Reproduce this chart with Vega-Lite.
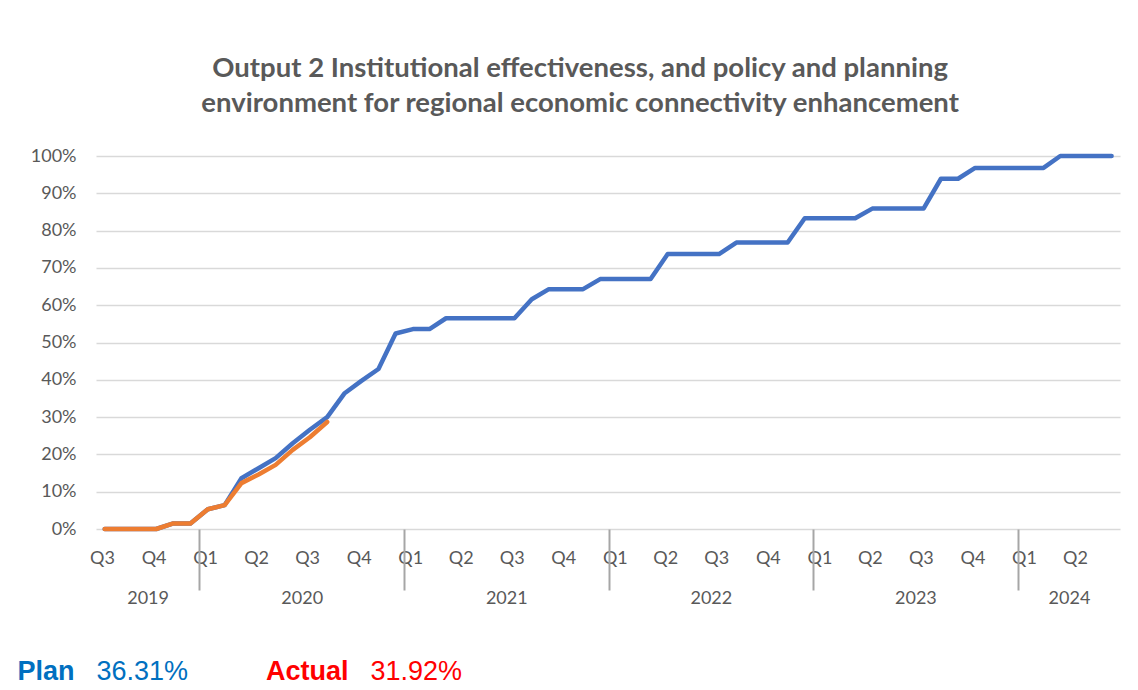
{
  "$schema": "https://vega.github.io/schema/vega-lite/v6.json",
  "background": "white",
  "padding": {"left": 17, "top": 54, "right": 8, "bottom": 0},
  "config": {"view": {"stroke": null}, "font": "Lato"},
  "spacing": 51,
  "vconcat": [
    {
      "title": {
        "text": ["Output 2 Institutional effectiveness, and policy and planning", "environment for regional economic connectivity enhancement"],
        "font": "Lato", "fontSize": 27.5, "fontWeight": "bold", "color": "#595959",
        "lineHeight": 35, "anchor": "middle", "frame": "bounds", "dx": 2, "offset": 30
      },
      "width": 1024,
      "height": 373,
      "data": {"values": [
        {"month": "2019-07", "plan": 0, "actual": 0},
        {"month": "2019-08", "plan": 0, "actual": 0},
        {"month": "2019-09", "plan": 0, "actual": 0},
        {"month": "2019-10", "plan": 0, "actual": 0},
        {"month": "2019-11", "plan": 0.015, "actual": 0.015},
        {"month": "2019-12", "plan": 0.015, "actual": 0.015},
        {"month": "2020-01", "plan": 0.053, "actual": 0.053},
        {"month": "2020-02", "plan": 0.064, "actual": 0.064},
        {"month": "2020-03", "plan": 0.136, "actual": 0.123},
        {"month": "2020-04", "plan": 0.163, "actual": 0.146},
        {"month": "2020-05", "plan": 0.19, "actual": 0.172},
        {"month": "2020-06", "plan": 0.23, "actual": 0.212},
        {"month": "2020-07", "plan": 0.266, "actual": 0.246},
        {"month": "2020-08", "plan": 0.3, "actual": 0.287},
        {"month": "2020-09", "plan": 0.3631, "actual": null},
        {"month": "2020-10", "plan": 0.397, "actual": null},
        {"month": "2020-11", "plan": 0.429, "actual": null},
        {"month": "2020-12", "plan": 0.524, "actual": null},
        {"month": "2021-01", "plan": 0.536, "actual": null},
        {"month": "2021-02", "plan": 0.536, "actual": null},
        {"month": "2021-03", "plan": 0.565, "actual": null},
        {"month": "2021-04", "plan": 0.565, "actual": null},
        {"month": "2021-05", "plan": 0.565, "actual": null},
        {"month": "2021-06", "plan": 0.565, "actual": null},
        {"month": "2021-07", "plan": 0.565, "actual": null},
        {"month": "2021-08", "plan": 0.616, "actual": null},
        {"month": "2021-09", "plan": 0.643, "actual": null},
        {"month": "2021-10", "plan": 0.643, "actual": null},
        {"month": "2021-11", "plan": 0.643, "actual": null},
        {"month": "2021-12", "plan": 0.67, "actual": null},
        {"month": "2022-01", "plan": 0.67, "actual": null},
        {"month": "2022-02", "plan": 0.67, "actual": null},
        {"month": "2022-03", "plan": 0.67, "actual": null},
        {"month": "2022-04", "plan": 0.737, "actual": null},
        {"month": "2022-05", "plan": 0.737, "actual": null},
        {"month": "2022-06", "plan": 0.737, "actual": null},
        {"month": "2022-07", "plan": 0.737, "actual": null},
        {"month": "2022-08", "plan": 0.768, "actual": null},
        {"month": "2022-09", "plan": 0.768, "actual": null},
        {"month": "2022-10", "plan": 0.768, "actual": null},
        {"month": "2022-11", "plan": 0.768, "actual": null},
        {"month": "2022-12", "plan": 0.833, "actual": null},
        {"month": "2023-01", "plan": 0.833, "actual": null},
        {"month": "2023-02", "plan": 0.833, "actual": null},
        {"month": "2023-03", "plan": 0.833, "actual": null},
        {"month": "2023-04", "plan": 0.859, "actual": null},
        {"month": "2023-05", "plan": 0.859, "actual": null},
        {"month": "2023-06", "plan": 0.859, "actual": null},
        {"month": "2023-07", "plan": 0.859, "actual": null},
        {"month": "2023-08", "plan": 0.939, "actual": null},
        {"month": "2023-09", "plan": 0.939, "actual": null},
        {"month": "2023-10", "plan": 0.968, "actual": null},
        {"month": "2023-11", "plan": 0.968, "actual": null},
        {"month": "2023-12", "plan": 0.968, "actual": null},
        {"month": "2024-01", "plan": 0.968, "actual": null},
        {"month": "2024-02", "plan": 0.968, "actual": null},
        {"month": "2024-03", "plan": 1.0, "actual": null},
        {"month": "2024-04", "plan": 1.0, "actual": null},
        {"month": "2024-05", "plan": 1.0, "actual": null},
        {"month": "2024-06", "plan": 1.0, "actual": null}
      ]},
      "resolve": {"scale": {"x": "independent"}, "axis": {"x": "independent"}},
      "layer": [
        {
          "mark": {"type": "line", "color": "#4472C4", "strokeWidth": 4.5, "strokeCap": "round", "strokeJoin": "round"},
          "encoding": {
            "x": {
              "field": "month", "type": "temporal", "timeUnit": "utcyearmonth", "bandPosition": 0.5,
              "scale": {"type": "utc", "domain": [{"year": 2019, "month": 7, "date": 1, "utc": true}, {"year": 2024, "month": 7, "date": 1, "utc": true}]},
              "axis": {
                "orient": "bottom", "title": null, "grid": false, "domain": false, "ticks": false,
                "tickCount": {"interval": "month", "step": 3},
                "labelExpr": "utcyear(datum.value) == 2024 && utcmonth(datum.value) == 6 ? '' : 'Q' + (floor(utcmonth(datum.value) / 3) + 1)",
                "labelOffset": 6, "labelPadding": 20, "labelFlush": false, "labelOverlap": false,
                "labelColor": "#595959", "labelFontSize": 18, "labelFont": "Lato"
              }
            },
            "y": {
              "field": "plan", "type": "quantitative",
              "scale": {"domain": [0, 1], "nice": false},
              "axis": {
                "title": null, "format": ".0%", "values": [0, 0.1, 0.2, 0.3, 0.4, 0.5, 0.6, 0.7, 0.8, 0.9, 1],
                "labelOverlap": false,
                "grid": true, "gridColor": "#D9D9D9", "gridWidth": 1.5,
                "domain": false, "ticks": false, "labelPadding": 20,
                "labelColor": "#595959", "labelFontSize": 18, "labelFont": "Lato"
              }
            }
          }
        },
        {
          "mark": {"type": "line", "color": "#ED7D31", "strokeWidth": 4.5, "strokeCap": "round", "strokeJoin": "round"},
          "encoding": {
            "x": {
              "field": "month", "type": "temporal", "timeUnit": "utcyearmonth", "bandPosition": 0.5,
              "scale": {"type": "utc", "domain": [{"year": 2019, "month": 7, "date": 1, "utc": true}, {"year": 2024, "month": 7, "date": 1, "utc": true}]},
              "axis": null
            },
            "y": {
              "field": "actual", "type": "quantitative",
              "axis": {
                "title": null, "format": ".0%", "values": [0, 0.1, 0.2, 0.3, 0.4, 0.5, 0.6, 0.7, 0.8, 0.9, 1],
                "labelOverlap": false,
                "grid": true, "gridColor": "#D9D9D9", "gridWidth": 1.5,
                "domain": false, "ticks": false, "labelPadding": 20,
                "labelColor": "#595959", "labelFontSize": 18, "labelFont": "Lato"
              }
            }
          }
        },
        {
          "mark": {"type": "point", "opacity": 0},
          "encoding": {
            "x": {
              "field": "month", "type": "temporal", "timeUnit": "utcyearmonth",
              "scale": {"type": "utc", "domain": [{"year": 2019, "month": 7, "date": 1, "utc": true}, {"year": 2024, "month": 7, "date": 1, "utc": true}]},
              "axis": {
                "orient": "bottom", "title": null, "grid": false, "domain": false, "labels": false,
                "ticks": true, "tickSize": 61, "tickColor": "#A6A6A6", "tickWidth": 2,
                "tickCount": {"interval": "year", "step": 1}
              }
            },
            "y": {
              "field": "plan", "type": "quantitative",
              "axis": {
                "title": null, "format": ".0%", "values": [0, 0.1, 0.2, 0.3, 0.4, 0.5, 0.6, 0.7, 0.8, 0.9, 1],
                "labelOverlap": false,
                "grid": true, "gridColor": "#D9D9D9", "gridWidth": 1.5,
                "domain": false, "ticks": false, "labelPadding": 20,
                "labelColor": "#595959", "labelFontSize": 18, "labelFont": "Lato"
              }
            }
          }
        },
        {
          "mark": {"type": "point", "opacity": 0},
          "encoding": {
            "x": {
              "field": "month", "type": "temporal", "timeUnit": "utcyearmonth",
              "scale": {"type": "utc", "domain": [{"year": 2019, "month": 7, "date": 1, "utc": true}, {"year": 2024, "month": 7, "date": 1, "utc": true}]},
              "axis": {
                "orient": "bottom", "title": null, "grid": false, "domain": false, "ticks": false,
                "values": [
                  {"year": 2019, "month": 10, "date": 1, "utc": true},
                  {"year": 2020, "month": 7, "date": 2, "utc": true},
                  {"year": 2021, "month": 7, "date": 2, "utc": true},
                  {"year": 2022, "month": 7, "date": 2, "utc": true},
                  {"year": 2023, "month": 7, "date": 2, "utc": true},
                  {"year": 2024, "month": 4, "date": 1, "utc": true}
                ],
                "format": "%Y", "labelPadding": 60, "labelFlush": false, "labelOverlap": false,
                "labelColor": "#595959", "labelFontSize": 18, "labelFont": "Lato"
              }
            },
            "y": {
              "field": "plan", "type": "quantitative",
              "axis": {
                "title": null, "format": ".0%", "values": [0, 0.1, 0.2, 0.3, 0.4, 0.5, 0.6, 0.7, 0.8, 0.9, 1],
                "labelOverlap": false,
                "grid": true, "gridColor": "#D9D9D9", "gridWidth": 1.5,
                "domain": false, "ticks": false, "labelPadding": 20,
                "labelColor": "#595959", "labelFontSize": 18, "labelFont": "Lato"
              }
            }
          }
        }
      ]
    },
    {
      "width": 274,
      "height": 24,
      "data": {"values": [
        {"series": "Plan", "pct": 0.3631},
        {"series": "Actual", "pct": 0.3192}
      ]},
      "encoding": {
        "x": {"field": "series", "type": "nominal", "sort": ["Plan", "Actual"], "scale": {"type": "point", "padding": 0}, "axis": null},
        "color": {"field": "series", "type": "nominal", "scale": {"domain": ["Plan", "Actual"], "range": ["#0070C0", "#FF0000"]}, "legend": null}
      },
      "layer": [
        {
          "mark": {"type": "text", "align": "right", "baseline": "middle", "dx": -21.5, "font": "Liberation Sans", "fontSize": 27, "fontWeight": "bold"},
          "encoding": {"text": {"field": "series"}}
        },
        {
          "mark": {"type": "text", "align": "left", "baseline": "middle", "dx": 0.5, "font": "Liberation Sans", "fontSize": 27, "fontWeight": "normal"},
          "encoding": {"text": {"field": "pct", "format": ".2%"}}
        }
      ]
    }
  ]
}
